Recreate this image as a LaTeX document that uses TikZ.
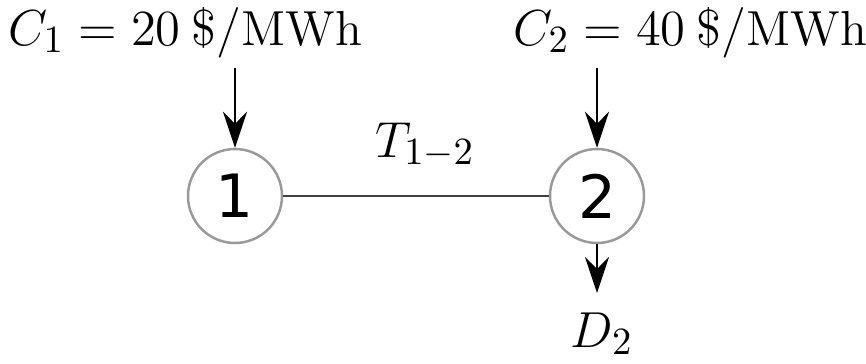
\documentclass[tikz,border=0pt]{standalone}
\usepackage{amsmath,amssymb}
\usepackage{fontspec}
\newfontfamily\busfont{DejaVu Sans}
\DeclareMathSizes{14}{14}{11.2}{8.8}
\usetikzlibrary{arrows.meta,positioning,calc}
\tikzset{
  bus/.style={draw=black!40, line width=0.7pt, circle, minimum size=0.94cm, inner sep=0pt, font=\busfont\fontsize{17}{17}\selectfont},
  lbl/.style={anchor=base, inner sep=0pt, font=\fontsize{14}{14}\selectfont},
  arr/.style={line width=0.7pt, -{Stealth[length=3.6mm, width=2.4mm, inset=1.2mm]}},
  tline/.style={draw=black!75, line width=0.7pt},
}

\begin{document}
\begin{tikzpicture}
\useasboundingbox (0,0) rectangle (8.66,3.63);
% barras
\node[bus] (b1) at (2.35,1.67) {1};
\node[bus] (b2) at (5.97,1.67) {2};
% custos
\node[lbl] (c1) at (1.85,3.18) {$C_1 = 20\:\$/\mathrm{MWh}$};
\node[lbl] (c2) at (6.90,3.18) {$C_2 = 40\:\$/\mathrm{MWh}$};
\coordinate (g1) at (2.35,2.95);
\coordinate (g2) at (5.97,2.95);
\coordinate (d2) at (5.97,0.70);
\node[lbl] (D2) at (6.02,0.16) {$D_2$};
% linha
\draw[tline] (b1) -- (b2);
\node[lbl] (T12) at (4.25,2.06) {$T_{1-2}$};
\draw[arr] (g1) -- (b1.north);
\draw[arr] (g2) -- (b2.north);
\draw[arr] (b2.south) -- (d2);
\end{tikzpicture}
\end{document}
